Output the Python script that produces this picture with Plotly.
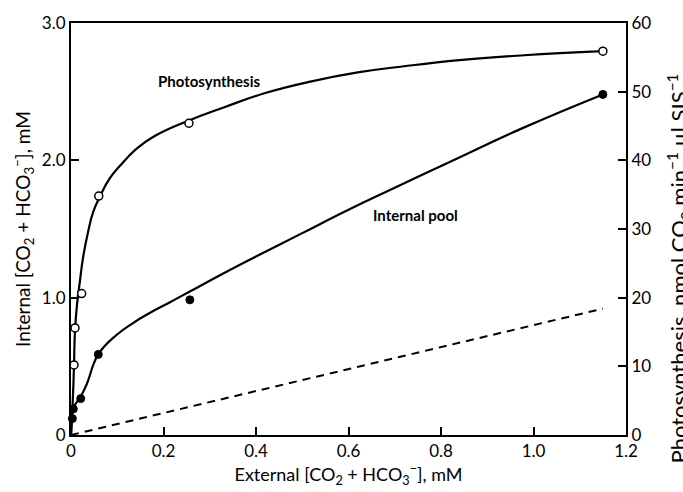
import plotly.graph_objects as go

# Measured points: external inorganic carbon (mM)
photo_ext = [0.0065, 0.0086, 0.023, 0.06, 0.255, 1.15]
photo_rate = [10.2, 15.6, 20.6, 34.8, 45.4, 55.9]          # nmol CO2 min-1 ul SIS-1

pool_ext = [0.003, 0.005, 0.021, 0.059, 0.257, 1.15]
pool_conc = [0.12, 0.19, 0.265, 0.587, 0.984, 2.48]         # internal mM

# Hand-fitted smooth curves through the measurements
photo_fit_x = [0, 0.0043, 0.0065, 0.0086, 0.013, 0.0195, 0.026, 0.037, 0.048, 0.063,
               0.084, 0.106, 0.14, 0.18, 0.255, 0.33, 0.42, 0.52, 0.62, 0.72,
               0.84, 0.98, 1.15]
photo_fit_y = [0, 5.8, 10.2, 15.1, 19.0, 22.5, 25.8, 29.6, 32.5, 34.8,
               37.4, 39.2, 41.6, 43.5, 45.8, 47.7, 49.8, 51.5, 52.8, 53.7,
               54.6, 55.3, 55.9]

pool_fit_x = [0, 0.002, 0.004, 0.0086, 0.021, 0.034, 0.059, 0.099, 0.134, 0.171,
              0.21, 0.26, 0.32, 0.40, 0.50, 0.60, 0.70, 0.82, 0.98, 1.15]
pool_fit_y = [0, 0.11, 0.18, 0.22, 0.28, 0.37, 0.587, 0.73, 0.815, 0.89,
              0.96, 1.05, 1.16, 1.30, 1.47, 1.64, 1.80, 1.99, 2.24, 2.48]

# Equal-concentration reference (dashed)
ref_x = [0, 1.15]
ref_y = [0, 0.92]

x_ticks = [0, 0.2, 0.4, 0.6, 0.8, 1.0, 1.2]
x_tick_text = ["0", "0.2", "0.4", "0.6", "0.8", "1.0", "1.2"]
y_ticks = [0, 1, 2, 3]
y_tick_text = ["0", "1.0", "2.0", "3.0"]
y2_ticks = [0, 10, 20, 30, 40, 50, 60]
y2_tick_text = ["0", "10", "20", "30", "40", "50", "60"]

FONT = "Lato"
INK = "black"

fig = go.Figure()

fig.add_trace(go.Scatter(x=ref_x, y=ref_y, mode="lines",
                         line=dict(color=INK, width=2, dash="8px,6px"),
                         showlegend=False, hoverinfo="skip"))
fig.add_trace(go.Scatter(x=pool_fit_x, y=pool_fit_y, mode="lines",
                         line=dict(color=INK, width=2.2, shape="spline", smoothing=1.3),
                         showlegend=False, hoverinfo="skip"))
fig.add_trace(go.Scatter(x=photo_fit_x, y=photo_fit_y, mode="lines", yaxis="y2",
                         line=dict(color=INK, width=2.2, shape="spline", smoothing=1.3),
                         showlegend=False, hoverinfo="skip"))
fig.add_trace(go.Scatter(x=pool_ext, y=pool_conc, mode="markers",
                         marker=dict(symbol="circle", size=8, color=INK,
                                     line=dict(color=INK, width=1)),
                         showlegend=False, cliponaxis=False))
fig.add_trace(go.Scatter(x=photo_ext, y=photo_rate, mode="markers", yaxis="y2",
                         marker=dict(symbol="circle", size=8, color="white",
                                     line=dict(color=INK, width=1.5)),
                         showlegend=False, cliponaxis=False))

axis_common = dict(showgrid=False, zeroline=False, showline=True, linecolor=INK,
                   linewidth=2, ticks="inside", ticklen=8, tickwidth=1.5,
                   tickcolor=INK, tickfont=dict(family=FONT, size=17, color=INK))

fig.update_layout(
    width=683, height=492,
    margin=dict(l=71, r=57, t=20, b=52),
    paper_bgcolor="white", plot_bgcolor="white",
    font=dict(family=FONT, color=INK),
    xaxis=dict(range=[0, 1.2], tickvals=x_ticks, ticktext=x_tick_text, mirror=True,
               title=dict(text="External [CO<sub>2</sub> + HCO<sub>3</sub><sup>−</sup>], mM",
                          font=dict(family=FONT, size=18), standoff=6),
               **axis_common),
    yaxis=dict(range=[0, 3.0], tickvals=y_ticks, ticktext=y_tick_text,
               title=dict(text="Internal [CO<sub>2</sub> + HCO<sub>3</sub><sup>−</sup>], mM",
                          font=dict(family=FONT, size=19), standoff=6),
               **axis_common),
    yaxis2=dict(range=[0, 60], tickvals=y2_ticks, ticktext=y2_tick_text,
                overlaying="y", side="right", **axis_common),
)

fig.add_annotation(x=0.298, y=2.575, xref="x", yref="y", text="<b>Photosynthesis</b>",
                   showarrow=False, font=dict(family=FONT, size=15, color=INK))
fig.add_annotation(x=0.744, y=1.60, xref="x", yref="y", text="<b>Internal pool</b>",
                   showarrow=False, font=dict(family=FONT, size=15, color=INK))
fig.add_annotation(x=1.096, y=0.405, xref="paper", yref="paper", textangle=-90,
                   text="Photosynthesis, nmol CO<sub>2</sub> min<sup>−1</sup> µl SIS<sup>−1</sup>",
                   showarrow=False, xanchor="center", yanchor="middle",
                   font=dict(family=FONT, size=22, color=INK))

fig.write_html("out.html")
